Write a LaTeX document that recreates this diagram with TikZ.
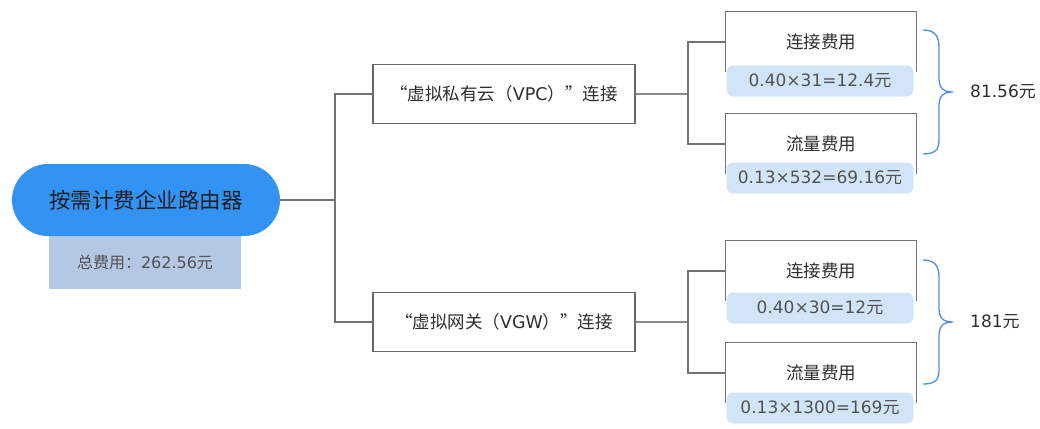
\documentclass[tikz,border=0pt]{standalone}
\usepackage{fontspec}
\setmainfont{Noto Sans CJK SC}
\newfontfamily\lat{DejaVu Sans}
\begin{document}
\begin{tikzpicture}[x=1pt,y=-1pt,
  line/.style={draw=black!55,line width=1.2pt},
  conn/.style={draw=black!45,line width=1.2pt},
  rootbox/.style={fill=rootblue,rounded corners=36pt,minimum width=268pt,minimum height=72pt,inner sep=0pt,font=\fontsize{21.5}{25}\selectfont,text=black!88},
  sumbox/.style={fill=sumblue,minimum width=192pt,minimum height=53pt,inner sep=0pt,font=\fontsize{16}{19}\selectfont,text=black!68},
  midbox/.style={draw=black!60,line width=1.1pt,fill=white,minimum width=262pt,minimum height=59pt,inner sep=0pt,font=\fontsize{17.5}{21}\selectfont,text=black!82},
  feebox/.style={minimum width=190pt,minimum height=60pt,inner sep=0pt,font=\fontsize{17.5}{21}\selectfont,text=black!82},
  calcbox/.style={fill=calcblue,rounded corners=7pt,minimum width=187pt,minimum height=31pt,inner sep=0pt,font=\fontsize{17}{20}\selectfont,text=black!68},
  total/.style={anchor=west,inner sep=0pt,font=\fontsize{17}{20}\selectfont,text=black!82},
  bracestyle/.style={draw=braceblue,line width=1.3pt}
]
\definecolor{rootblue}{HTML}{3293F5}
\definecolor{sumblue}{HTML}{B4C7E3}
\definecolor{calcblue}{HTML}{D2E5F8}
\definecolor{braceblue}{HTML}{4A8FE0}
\useasboundingbox (0,0) rectangle (1040,428);

% root and summary
\node[sumbox] (sum) at (145,262.5) {总费用：{\lat 262.56}元};
\node[rootbox] (root) at (146,200) {按需计费企业路由器};

% middle boxes
\node[midbox] (vpc) at (504,94) {“虚拟私有云（{\lat VPC}）”连接};
\node[midbox] (vgw) at (504,322) {“虚拟网关（{\lat VGW}）”连接};

% fee boxes
\node[feebox] (c1) at (821,42) {连接费用};
\node[feebox] (f1) at (821,144) {流量费用};
\node[feebox] (c2) at (821,271) {连接费用};
\node[feebox] (f2) at (821,373) {流量费用};
\foreach \n in {c1,f1,c2,f2}{
  \draw[line] (\n.south west) |- (\n.north east) -- (\n.south east);
}
\node[calcbox] (k1) at (820,81) {{\lat 0.40×31=12.4}元};
\node[calcbox] (k2) at (820,178) {{\lat 0.13×532=69.16}元};
\node[calcbox] (k3) at (820,308) {{\lat 0.40×30=12}元};
\node[calcbox] (k4) at (820,408) {{\lat 0.13×1300=169}元};

% connectors
\draw[line] (root.east) -- (335,200) coordinate (r0);
\draw[line] (r0) |- (vpc.west);
\draw[line] (r0) |- (vgw.west);
\draw[conn] (vpc.east) -- (688,94) coordinate (p0);
\draw[line] (p0) |- (c1.west);
\draw[line] (p0) |- (f1.west);
\draw[conn] (vgw.east) -- (688,322) coordinate (q0);
\draw[line] (q0) |- (c2.west);
\draw[line] (q0) |- (f2.west);

% braces and totals
\draw[bracestyle] (923,30) .. controls (935,30) and (939,36) .. (939,48) -- (939,78)
  .. controls (939,88) and (943,92) .. (953,92)
  .. controls (943,92) and (939,96) .. (939,106) -- (939,140)
  .. controls (939,150) and (935,154) .. (923,154);
\node[total] (t1) at (970,92) {{\lat 81.56}元};
\draw[bracestyle] (923,260) .. controls (935,260) and (939,266) .. (939,278) -- (939,308)
  .. controls (939,318) and (943,322) .. (953,322)
  .. controls (943,322) and (939,326) .. (939,336) -- (939,370)
  .. controls (939,380) and (935,384) .. (923,384);
\node[total] (t2) at (970,322) {{\lat 181}元};
\end{tikzpicture}
\end{document}
